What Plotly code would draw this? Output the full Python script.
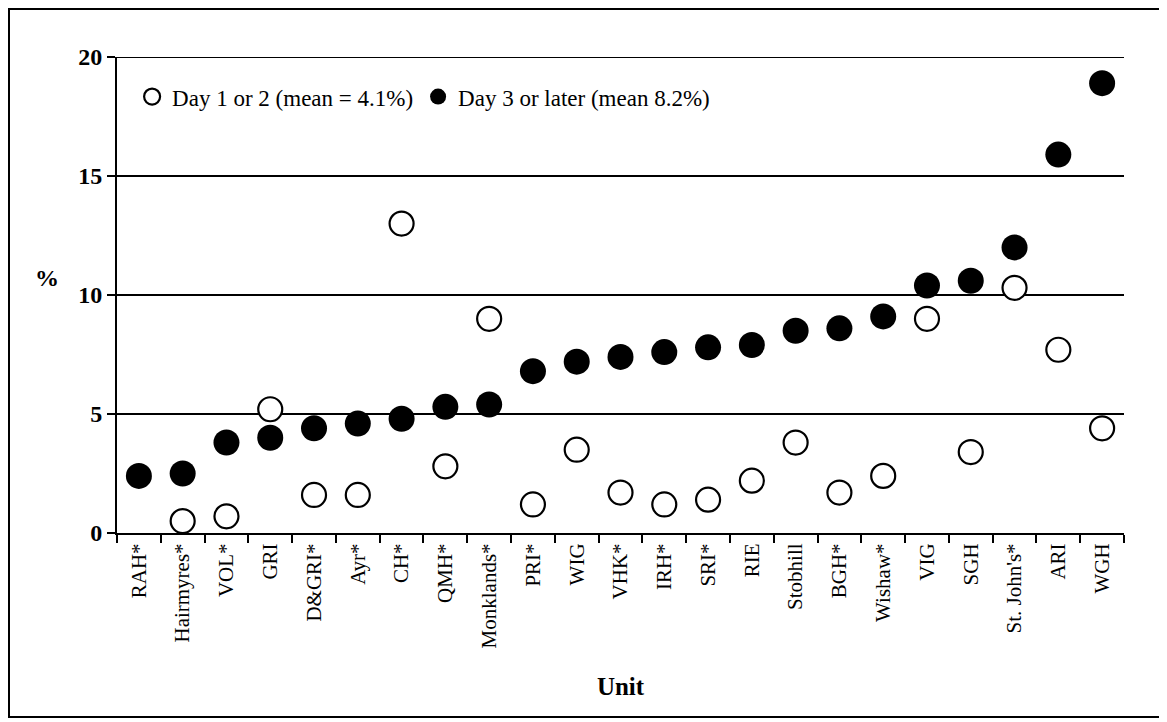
import plotly.graph_objects as go

units = ["RAH*", "Hairmyres*", "VOL*", "GRI", "D&GRI*", "Ayr*", "CH*", "QMH*",
         "Monklands*", "PRI*", "WIG", "VHK*", "IRH*", "SRI*", "RIE", "Stobhill",
         "BGH*", "Wishaw*", "VIG", "SGH", "St. John's*", "ARI", "WGH"]
day12 = [None, 0.5, 0.7, 5.2, 1.6, 1.6, 13.0, 2.8, 9.0, 1.2, 3.5, 1.7, 1.2, 1.4,
         2.2, 3.8, 1.7, 2.4, 9.0, 3.4, 10.3, 7.7, 4.4]
day3 = [2.4, 2.5, 3.8, 4.0, 4.4, 4.6, 4.8, 5.3, 5.4, 6.8, 7.2, 7.4, 7.6, 7.8,
        7.9, 8.5, 8.6, 9.1, 10.4, 10.6, 12.0, 15.9, 18.9]
y_ticks = [0, 5, 10, 15, 20]
legend_names = ["Day 1 or 2 (mean = 4.1%)", "Day 3 or later (mean 8.2%)"]

SERIF = "Liberation Serif, Times New Roman, serif"

fig = go.Figure()
fig.add_trace(go.Scatter(
    x=units, y=day12, mode="markers", name=legend_names[0],
    marker=dict(size=24, color="white", line=dict(color="black", width=2.2)),
))
fig.add_trace(go.Scatter(
    x=units, y=day3, mode="markers", name=legend_names[1],
    marker=dict(size=26, color="black", line=dict(color="black", width=0)),
))

# figure-pixel geometry (page is offset by the 8px body margin)
L, R, T, B = 109, 1116, 49, 525
W, H = 1167, 722
pw, ph = R - L, B - T

def px(x):
    return (x - L) / pw

def py(y):
    return (B - y) / ph

fig.update_layout(
    width=W, height=H,
    margin=dict(l=L, r=W - R, t=T, b=H - B, pad=0),
    paper_bgcolor="white", plot_bgcolor="white",
    font=dict(family=SERIF, color="black"),
    showlegend=True,
    legend=dict(
        orientation="h", x=0.015, y=0.962, xanchor="left", yanchor="top",
        font=dict(family=SERIF, size=23, color="black"),
        bgcolor="rgba(0,0,0,0)", itemwidth=30, tracegroupgap=0,
    ),
    xaxis=dict(
        type="category", categoryorder="array", categoryarray=units,
        showgrid=False, showline=True, linecolor="black", linewidth=2,
        ticks="outside", ticklen=8, tickwidth=2, tickcolor="black",
        tickson="boundaries", tickangle=-90,
        tickfont=dict(family=SERIF, size=21, color="black"),
        title=dict(text="<b>Unit</b>", font=dict(family=SERIF, size=25, color="black"), standoff=30),
        zeroline=False, range=[-0.5, len(units) - 0.5],
    ),
    yaxis=dict(
        range=[0, 20], tickmode="array", tickvals=y_ticks,
        ticktext=[f"<b>{v}</b>" for v in y_ticks],
        showgrid=True, gridcolor="black", gridwidth=2,
        showline=True, linecolor="black", linewidth=2,
        ticks="outside", ticklen=8, tickwidth=2, tickcolor="black",
        tickfont=dict(family=SERIF, size=24, color="black"),
        zeroline=False,
    ),
    shapes=[
        dict(type="rect", xref="paper", yref="paper",
             x0=px(1), x1=px(1155), y0=py(709), y1=py(1),
             line=dict(color="black", width=2), fillcolor="rgba(0,0,0,0)", layer="below"),
        dict(type="line", xref="paper", yref="y", x0=0, x1=1, y0=y_ticks[-1], y1=y_ticks[-1],
             line=dict(color="black", width=2), layer="below"),
    ],
    annotations=[
        dict(text="<b>%</b>", xref="paper", yref="paper", x=px(25), y=py(270),
             showarrow=False, font=dict(family=SERIF, size=24, color="black")),
    ],
)

fig.write_html("out.html")
